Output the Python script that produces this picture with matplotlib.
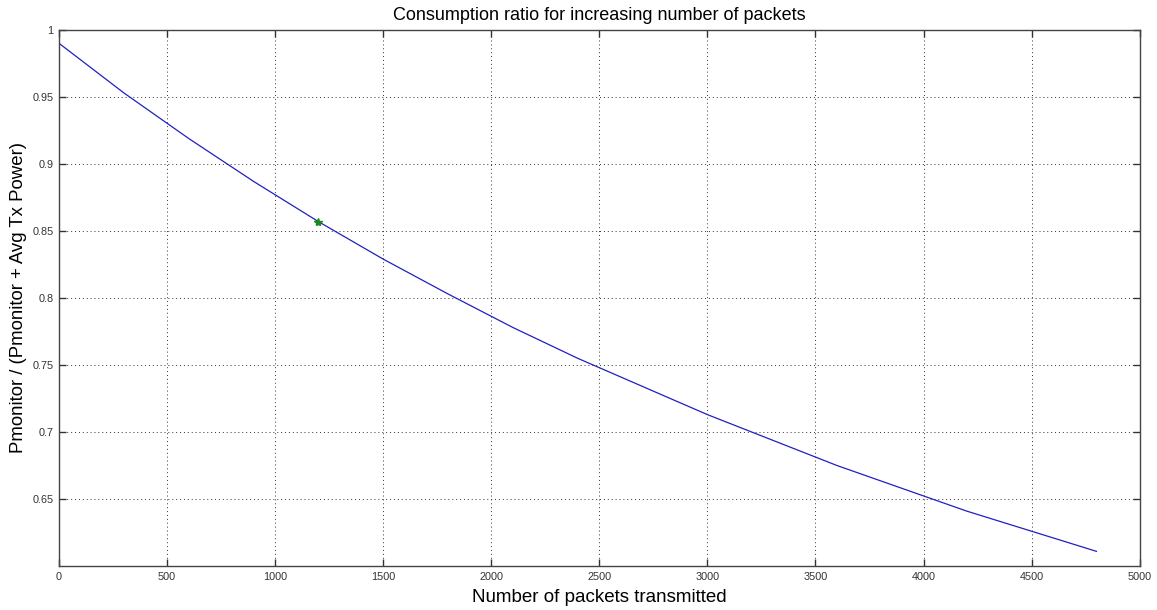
import matplotlib
matplotlib.use('Agg')
import matplotlib.pyplot as plt

plt.rcParams['font.family'] = ['Liberation Sans', 'DejaVu Sans']

# values
packets = [0, 300, 600, 900, 1200, 1500, 1800, 2100, 2400, 2700, 3000,
           3300, 3600, 3900, 4200, 4500, 4800]
ratio = [0.990, 0.953, 0.919, 0.887, 0.857, 0.829, 0.803, 0.778, 0.755,
         0.734, 0.713, 0.694, 0.675, 0.658, 0.641, 0.626, 0.611]

marker_x = [1200]
marker_y = [0.857]

x_ticks = [0, 500, 1000, 1500, 2000, 2500, 3000, 3500, 4000, 4500, 5000]
y_ticks = [0.65, 0.7, 0.75, 0.8, 0.85, 0.9, 0.95, 1]
y_tick_labels = ['0.65', '0.7', '0.75', '0.8', '0.85', '0.9', '0.95', '1']

fig = plt.figure(figsize=(11.57, 6.10), dpi=100)
ax = fig.add_axes([0.051, 0.072, 0.934, 0.879])

ax.plot(packets, ratio, color='#2020c0', linewidth=0.9)
ax.plot(marker_x, marker_y, linestyle='none', marker='*', color='#1a8a1a',
        markersize=6)

ax.set_xlim(0, 5000)
ax.set_ylim(0.6, 1.0)
ax.set_xticks(x_ticks)
ax.set_xticklabels([str(t) for t in x_ticks])
ax.set_yticks(y_ticks)
ax.set_yticklabels(y_tick_labels)

ax.grid(True, color='#333333', linestyle=(0, (1, 3)), linewidth=0.7)
ax.tick_params(direction='in', top=True, right=True, length=5, width=1.0,
               labelsize=7.8, labelcolor='#333333', color='#333333', pad=4)
for s in ax.spines.values():
    s.set_color('#444444')
    s.set_linewidth(1.0)

ax.set_title('Consumption ratio for increasing number of packets',
             fontsize=13, pad=7)
ax.set_xlabel('Number of packets transmitted', fontsize=13.5, labelpad=5)
ax.set_ylabel('Pmonitor / (Pmonitor + Avg Tx Power)', fontsize=13.4,
              labelpad=4)

fig.savefig('out.png', dpi=100)
